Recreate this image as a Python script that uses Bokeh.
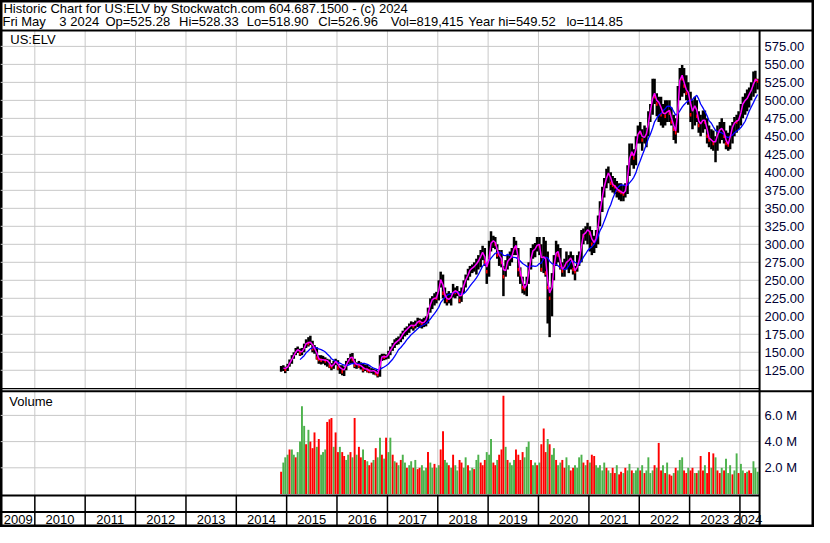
import pandas as pd
from bokeh.plotting import figure
from bokeh.models import Range1d, ColumnDataSource
from bokeh.embed import file_html
from bokeh.resources import INLINE
from bokeh.core.properties import value

FONT = "Liberation Sans"
W, H = 814, 527

# ---------------- data (semi-monthly bars) ----------------
first_date = "2014-11-15"

lows = [123, 124, 121,
        124, 130, 134, 141, 146, 149, 145, 146, 150, 156, 158, 160, 150, 148, 140, 134, 133, 134, 132, 130, 128, 125, 127, 132,
        125, 120, 118, 117, 125, 133, 134, 135, 128, 127, 128, 126, 122, 124, 122, 121, 121, 119, 118, 115, 116, 138, 139, 140,
        141, 146, 152, 156, 160, 161, 164, 168, 172, 174, 177, 182, 180, 183, 185, 184, 183, 185, 186, 190, 205, 210, 215, 218,
        222, 240, 225, 218, 215, 218, 215, 226, 225, 228, 218, 220, 232, 240, 250, 255, 260, 262, 258, 265, 268, 278, 270, 245,
        255, 290, 295, 293, 280, 270, 268, 228, 255, 265, 270, 275, 285, 285, 255, 245, 232, 230, 228, 245, 265, 280, 282, 290,
        285, 262, 260, 255, 190, 171, 200, 250, 270, 275, 265, 255, 255, 265, 260, 265, 258, 250, 262, 270, 275, 300, 305, 300,
        290, 285, 288, 295, 300, 325, 345, 365, 378, 385, 375, 372, 370, 365, 362, 360, 360, 365, 370, 395, 410, 405, 410, 440,
        440, 430, 440, 435, 450, 470, 480, 495, 478, 470, 465, 462, 465, 470, 470, 465, 445, 440, 455, 500, 505, 510, 500, 494,
        470, 460, 465, 470, 455, 450, 455, 460, 440, 435, 432, 430, 414, 430, 440, 445, 440, 432, 430, 432, 440, 450, 455, 460,
        465, 475, 480, 485, 490, 500, 505, 510, 515]

highs = [131, 132, 130,
         134, 140, 146, 150, 156, 158, 155, 156, 162, 168, 171, 173, 166, 160, 157, 146, 146, 145, 143, 141, 140, 135, 138, 141,
         139, 132, 132, 130, 138, 142, 148, 149, 141, 136, 138, 136, 134, 133, 133, 130, 128, 127, 126, 124, 146, 148, 148, 147,
         152, 158, 163, 168, 170, 172, 176, 180, 184, 186, 190, 193, 192, 194, 198, 197, 196, 198, 200, 212, 225, 228, 232, 234,
         250, 262, 258, 240, 232, 235, 232, 245, 240, 242, 235, 240, 250, 258, 266, 270, 272, 275, 280, 285, 292, 298, 295, 272,
         305, 318, 312, 310, 300, 292, 292, 270, 278, 285, 290, 295, 310, 305, 295, 268, 255, 245, 255, 275, 295, 300, 302, 310,
         310, 300, 310, 305, 290, 240, 260, 285, 305, 300, 295, 275, 280, 290, 285, 290, 285, 270, 285, 290, 320, 322, 325, 330,
         325, 320, 312, 320, 340, 360, 380, 392, 405, 408, 400, 395, 392, 388, 385, 385, 382, 385, 410, 440, 440, 432, 450, 465,
         470, 460, 465, 462, 485, 495, 530, 530, 510, 505, 505, 495, 500, 500, 500, 490, 480, 475, 520, 545, 549, 545, 535, 525,
         512, 500, 505, 500, 485, 480, 486, 486, 475, 465, 460, 458, 450, 465, 470, 475, 470, 458, 455, 465, 470, 477, 480, 485,
         495, 505, 510, 515, 518, 525, 540, 541, 530]

closes = [127, 129, 126,
          133, 136, 144, 147, 153, 154, 149, 152, 159, 165, 162, 166, 155, 156, 142, 140, 139, 140, 138, 139, 131, 130, 136, 139,
          128, 130, 123, 128, 136, 139, 146, 140, 132, 134, 131, 132, 126, 128, 125, 124, 124, 125, 121, 119, 142, 145, 143, 144,
          150, 155, 160, 164, 165, 168, 172, 178, 180, 183, 187, 188, 186, 189, 195, 192, 190, 193, 197, 210, 222, 224, 226, 225,
          247, 255, 232, 228, 222, 225, 228, 238, 233, 235, 222, 236, 248, 252, 262, 266, 268, 270, 275, 278, 288, 290, 275, 262,
          298, 305, 305, 300, 285, 285, 275, 255, 272, 280, 280, 286, 302, 295, 265, 258, 240, 238, 250, 270, 290, 292, 295, 302,
          298, 265, 300, 260, 240, 225, 255, 280, 295, 285, 268, 263, 275, 275, 280, 282, 265, 262, 275, 280, 315, 312, 320, 320,
          315, 300, 305, 312, 335, 355, 375, 385, 398, 400, 385, 382, 380, 375, 374, 372, 370, 378, 405, 432, 425, 420, 445, 460,
          455, 445, 452, 455, 480, 490, 515, 505, 495, 500, 480, 485, 478, 490, 482, 470, 460, 455, 515, 540, 530, 520, 510, 512,
          480, 490, 495, 478, 465, 470, 475, 470, 450, 445, 445, 440, 445, 458, 460, 462, 450, 440, 438, 460, 465, 472, 470, 475,
          490, 500, 500, 505, 512, 515, 530, 528, 527]

# volume in millions of shares
volumes = [1.7, 2.4, 2.8,
           3.0, 3.4, 3.4, 3.0, 2.8, 3.2, 4.0, 6.7, 5.2, 3.8, 4.9, 4.0, 3.5, 4.7, 3.6, 4.2, 3.0, 3.2, 3.4, 5.5, 5.7, 5.8, 3.6, 4.7,
           3.2, 3.6, 3.2, 2.9, 2.6, 3.0, 3.2, 2.8, 5.8, 3.0, 3.6, 2.8, 3.4, 2.6, 2.5, 2.2, 2.4, 2.6, 3.5, 2.8, 4.3, 3.0, 2.7, 4.3,
           3.2, 4.3, 3.0, 2.5, 2.4, 2.2, 2.6, 3.0, 2.4, 2.0, 2.2, 2.5, 2.0, 2.6, 1.9, 2.0, 2.2, 1.8, 2.0, 3.2, 2.4, 2.0, 2.3, 2.0,
           2.2, 3.4, 4.8, 2.6, 2.4, 2.2, 2.0, 3.0, 2.2, 1.8, 2.6, 2.4, 2.0, 2.8, 2.2, 1.8, 2.0, 1.9, 2.6, 3.0, 2.4, 2.2, 2.6, 3.2,
           3.0, 4.2, 2.4, 2.2, 2.6, 3.0, 3.4, 7.5, 3.6, 2.6, 2.4, 2.2, 2.6, 3.4, 3.0, 2.6, 3.2, 2.8, 3.6, 4.0, 2.6, 2.2, 2.4, 2.2,
           2.4, 3.8, 5.0, 3.2, 4.2, 3.8, 3.0, 3.5, 2.6, 2.2, 2.4, 2.6, 2.0, 2.8, 2.2, 1.8, 2.0, 2.2, 2.0, 2.8, 3.0, 2.4, 2.2, 2.6,
           2.4, 3.0, 2.9, 2.2, 2.0, 2.2, 1.8, 2.4, 2.0, 1.8, 1.6, 2.0, 1.6, 2.2, 1.5, 1.7, 1.6, 2.0, 1.8, 2.3, 1.8, 1.6, 1.8, 2.0,
           1.8, 2.2, 1.6, 1.8, 2.8, 1.6, 1.8, 2.2, 2.0, 3.9, 1.8, 2.2, 1.6, 2.4, 1.5, 1.4, 1.6, 2.0, 1.8, 2.6, 2.8, 1.8, 1.6, 2.0,
           1.8, 2.0, 1.6, 1.6, 1.8, 2.9, 1.8, 2.2, 1.6, 3.2, 2.0, 3.1, 2.8, 1.8, 1.6, 2.0, 1.8, 2.7, 1.6, 2.2, 1.5, 1.8, 3.1, 1.6,
           2.3, 1.8, 1.6, 1.7, 1.8, 1.6, 2.5, 2.0, 1.7]

# u = up day (green volume bar), d = down day (red volume bar)
vol_dir = ("duu"
           + "uduudu" + "uuudud" + "dduduu" + "udddud"
           + "dudduu" + "dududd" + "ududdu" + "duudud"
           + "uududu" + "duuduu" + "dudduu" + "uduudu"
           + "udduud" + "uduudd" + "uuduud" + "uudddu"
           + "uuddud" + "dduduu" + "uddddu" + "uuduud"
           + "udddud" + "uuduud" + "duuddu" + "uuudud"
           + "udduuu" + "uuduud" + "duddud" + "uuduuu"
           + "duduuu" + "ududdu" + "duddud" + "uuuddu"
           + "ddudud" + "duddud" + "uddudu" + "uuduud"
           + "uududduuu")

price_ticks = [125, 150, 175, 200, 225, 250, 275, 300, 325, 350, 375, 400, 425, 450, 475, 500, 525, 550, 575]
vol_ticks = [2, 4, 6]
vol_tick_labels = ["2.0 M", "4.0 M", "6.0 M"]
years = list(range(2009, 2025))

header_line1 = "Historic Chart for US:ELV by Stockwatch.com 604.687.1500 - (c) 2024"
header_fields = ["Fri May", "3 2024", "Op=525.28", "Hi=528.33", "Lo=518.90", "Cl=526.96",
                 "Vol=819,415", "Year hi=549.52", "lo=114.85"]

# ---------------- layout geometry (reference pixel grid 830 x 543) ----------------
DAY = 86400000.0
T2010 = pd.Timestamp("2010-01-01").timestamp() * 1000
PX_PER_YEAR = 51.36
MS_PER_PX = 365.25 * DAY / PX_PER_YEAR


def X(xpix):
    return T2010 + (xpix - 35.0) * MS_PER_PX


# price scale: 125 at row 381, 0.7416 px per dollar; volume: 0 at row 508.5, 13.5 px per million
PRICE_RANGE = Range1d(125 - (543 - 381) / 0.7416, 125 + 381 / 0.7416)
VOL_RANGE = Range1d(-(543 - 508.5) / 13.5, 508.5 / 13.5)

header_field_x = [2, 60, 107, 182, 251, 324, 398, 477, 577]
FRAME_R = 774

# ---------------- derived series ----------------
n = len(closes)
dates = pd.date_range(first_date, periods=n, freq="SMS")
xc = dates + pd.Timedelta(days=7)
cs = pd.Series(closes, dtype=float)
ma_short = cs.rolling(2).mean()
ma_long = cs.rolling(10).mean()
down = (cs < cs.shift(1)).values

UP, DN = "#4cb24c", "#ff0000"
vcol = [UP if c == "u" else DN for c in vol_dir]

src = ColumnDataSource(dict(x=xc, lo=lows, hi=highs, cl=closes, vol=volumes, vcol=vcol,
                            mas=ma_short.values, mal=ma_long.values))
dsrc = ColumnDataSource(dict(x=xc[down], cl=cs.values[down]))

year_ms = [pd.Timestamp(f"{y}-01-01").timestamp() * 1000 for y in years[1:]]

GRID = "#c8c8c8"
LBL = "#000033"
TXT = dict(text_font=value(FONT), text_font_size="13px", text_baseline="middle")

p = figure(width=W, height=H, x_range=Range1d(X(0), X(830)), y_range=Range1d(543, 0),
           x_axis_location=None, y_axis_location=None, toolbar_location=None,
           output_backend="svg", min_border=0, title=None,
           outline_line_color="black", outline_line_width=4)
p.grid.visible = False
p.extra_y_ranges = {"price": PRICE_RANGE, "vol": VOL_RANGE}

# grid lines
npt = len(price_ticks)
p.segment(x0=[X(0)] * npt, x1=[X(FRAME_R)] * npt, y0=price_ticks, y1=price_ticks,
          y_range_name="price", line_color=GRID, line_width=1)
nvt = len(vol_ticks)
p.segment(x0=[X(0)] * nvt, x1=[X(FRAME_R)] * nvt, y0=vol_ticks, y1=vol_ticks,
          y_range_name="vol", line_color=GRID, line_width=1)
ny = len(year_ms)
p.segment(x0=year_ms, x1=year_ms, y0=[31] * ny, y1=[400] * ny, line_color=GRID, line_width=1)
p.segment(x0=year_ms, x1=year_ms, y0=[402] * ny, y1=[510] * ny, line_color=GRID, line_width=1)
p.segment(x0=year_ms, x1=year_ms, y0=[510] * ny, y1=[543] * ny, line_color="black", line_width=1.5)

# volume bars
p.vbar(x="x", top="vol", bottom=0, width=14 * DAY, source=src, fill_color="vcol",
       line_color=None, y_range_name="vol")

# price bars and averages
p.segment(x0="x", y0="lo", x1="x", y1="hi", source=src, line_color="black", line_width=2.5,
          y_range_name="price")
p.rect(x="x", y="cl", width=1.6, height=3.5, width_units="screen", height_units="screen",
       source=dsrc, fill_color="#ff0000", line_color=None, y_range_name="price")
p.line(x="x", y="mal", source=src, line_color="#0000ff", line_width=1.3, y_range_name="price")
p.line(x="x", y="mas", source=src, line_color="#ff00ff", line_width=1.5, y_range_name="price")

# panel borders
p.segment(x0=[X(0)], x1=[X(830)], y0=[31], y1=[31], line_color="black", line_width=2)
p.segment(x0=[X(FRAME_R)], x1=[X(FRAME_R)], y0=[31], y1=[543], line_color="black", line_width=2)
p.segment(x0=[X(0)], x1=[X(FRAME_R)], y0=[400], y1=[400], line_color="black", line_width=1.2)
p.segment(x0=[X(0)], x1=[X(830)], y0=[402.5], y1=[402.5], line_color="black", line_width=2)
p.segment(x0=[X(0), X(0)], x1=[X(FRAME_R), X(FRAME_R)], y0=[510, 527], y1=[510, 527],
          line_color="black", line_width=2)

# header (two lines)
p.text(x=[X(3)], y=[7.8], text=[header_line1], text_color="black", **TXT)
p.text(x=[X(v) for v in header_field_x], y=[21.8] * len(header_fields), text=header_fields,
       text_color="black", **TXT)

# panel titles
p.text(x=[X(10)], y=[40], text=["US:ELV"], text_color="black", **TXT)
p.text(x=[X(9)], y=[413], text=["Volume"], text_color="black", **TXT)

# right-hand tick labels
p.text(x=[X(779)] * npt, y=price_ticks, text=[f"{t:.2f}" for t in price_ticks], y_range_name="price",
       text_color=LBL, text_align="left", **TXT)
p.text(x=[X(779)] * nvt, y=vol_ticks, text=vol_tick_labels, y_range_name="vol",
       text_color=LBL, text_align="left", **TXT)

# year labels, centred in each year's visible span
lab_x = []
for y in years:
    s = max(pd.Timestamp(f"{y}-01-01").timestamp() * 1000, X(1))
    e = min(pd.Timestamp(f"{y + 1}-01-01").timestamp() * 1000, X(770))
    lab_x.append((s + e) / 2)
p.text(x=lab_x, y=[535] * len(years), text=[str(y) for y in years], text_color="black",
       text_align="center", **TXT)

open("out.html", "w").write(file_html(p, INLINE))
